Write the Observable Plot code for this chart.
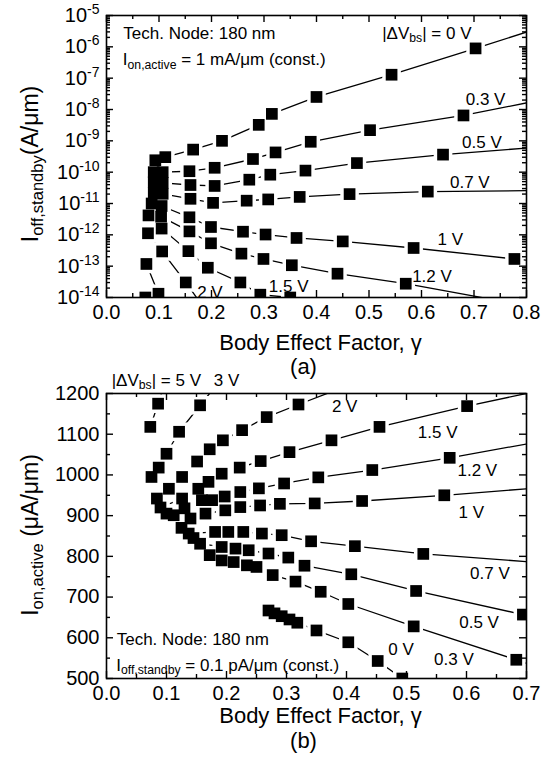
<!DOCTYPE html>
<html>
<head>
<meta charset="utf-8">
<script src="https://cdn.jsdelivr.net/npm/d3@7"></script>
<script src="https://cdn.jsdelivr.net/npm/@observablehq/plot@0.6"></script>
<style>
  html, body { margin: 0; padding: 0; background: #fff; }
  #fig { position: relative; width: 547px; height: 762px; overflow: hidden; }
  #fig svg { position: absolute; left: 0; }
</style>
</head>
<body>
<div id="fig"></div>
<script>
const FONT = '"Liberation Sans", Arial, Helvetica, sans-serif';

// ---------------- Panel (a): I_off,standby vs gamma  [gamma, log10(I A/um)] ----------------
const a0V  = [[0.093,-9.62],[0.112,-9.52],[0.165,-9.28],[0.22,-9.0],[0.29,-8.49],[0.315,-8.14],[0.40,-7.60],[0.543,-6.89],[0.703,-6.05]];
const a03V = [[0.09,-10.0],[0.107,-10.0],[0.158,-9.97],[0.206,-9.86],[0.279,-9.58],[0.322,-9.37],[0.389,-9.03],[0.502,-8.66],[0.68,-8.19]];
const a05V = [[0.09,-10.32],[0.107,-10.34],[0.16,-10.41],[0.206,-10.44],[0.272,-10.24],[0.312,-10.08],[0.379,-9.95],[0.477,-9.71],[0.641,-9.44]];
const a07V = [[0.09,-10.67],[0.107,-10.69],[0.16,-10.85],[0.203,-10.98],[0.267,-10.91],[0.308,-10.87],[0.368,-10.79],[0.463,-10.70],[0.612,-10.62]];
const a1V  = [[0.086,-11.0],[0.105,-11.08],[0.158,-11.44],[0.199,-11.75],[0.26,-11.9],[0.303,-11.99],[0.362,-12.1],[0.45,-12.21],[0.585,-12.42],[0.777,-12.77]];
const a12V = [[0.08,-11.38],[0.104,-11.42],[0.158,-11.89],[0.199,-12.27],[0.257,-12.6],[0.299,-12.77],[0.353,-12.97],[0.44,-13.24],[0.57,-13.56]];
const a15V = [[0.105,-11.8],[0.156,-12.52],[0.193,-13.05],[0.255,-13.52],[0.293,-13.91],[0.35,-14.0]];
const a2V  = [[0.079,-11.95],[0.106,-12.53],[0.151,-13.52]];
const a3V  = [[0.076,-12.93],[0.099,-13.88]];
const a5V  = [[0.074,-14.0]];
const aLineEnds = [["0 V",0.8,-5.53],["0.3 V",0.8,-7.79],["0.5 V",0.8,-9.23],["0.7 V",0.8,-10.59],["1 V",0.8,-12.81],["1.2 V",0.8,-14.26],["2 V",0.18,-14.2],["3 V",0.106,-14.2]];
const aSeries = [["0 V",a0V],["0.3 V",a03V],["0.5 V",a05V],["0.7 V",a07V],["1 V",a1V],["1.2 V",a12V],["1.5 V",a15V],["2 V",a2V],["3 V",a3V],["5 V",a5V]];
const aLabels = [["0.3 V",0.722,-7.68],["0.5 V",0.715,-9.05],["0.7 V",0.692,-10.32],["1 V",0.655,-12.14],["1.2 V",0.62,-13.34],["1.5 V",0.347,-13.64],["2 V",0.197,-13.83]];
const aNoteTech = ["Tech. Node: 180 nm", 0.032, -5.58];
const aNoteIon  = [0.032, -6.42];
const aNoteDV   = [0.526, -5.58];
const xMajorA = [0,0.1,0.2,0.3,0.4,0.5,0.6,0.7,0.8];
const xMinorA = [0.05,0.15,0.25,0.35,0.45,0.55,0.65,0.75];
const yMajorA = [1e-14,1e-13,1e-12,1e-11,1e-10,1e-9,1e-8,1e-7,1e-6,1e-5];
const yMinorA = yMajorA.slice(0,-1).flatMap(p => [2,3,4,5,6,7,8,9].map(k => k*p));

// ---------------- Panel (b): I_on,active vs gamma  [gamma, uA/um] ----------------
const b5V  = [[0.073,1118],[0.086,1175]];
const b3V  = [[0.075,995],[0.087,1018],[0.1,1052],[0.121,1106],[0.156,1171]];
const b2V  = [[0.084,942],[0.104,966],[0.126,995],[0.151,1033],[0.172,1063],[0.194,1085],[0.226,1110],[0.267,1142],[0.32,1173]];
const b15V = [[0.09,920],[0.126,942],[0.153,966],[0.17,983],[0.192,1003],[0.222,1018],[0.257,1034],[0.305,1056],[0.375,1085],[0.455,1118],[0.601,1169]];
const b12V = [[0.1,905],[0.13,918],[0.159,938],[0.176,938],[0.197,947],[0.223,958],[0.254,967],[0.296,979],[0.353,994],[0.443,1012],[0.572,1042]];
const b1V  = [[0.112,901],[0.14,893],[0.165,905],[0.198,913],[0.223,921],[0.256,925],[0.289,929],[0.347,930],[0.426,936],[0.563,950]];
const b07V = [[0.125,870],[0.137,856],[0.181,860],[0.203,860],[0.228,860],[0.259,856],[0.292,852],[0.341,837],[0.414,825],[0.528,806]];
const b05V = [[0.145,845],[0.156,831],[0.192,823],[0.215,819],[0.237,815],[0.27,807],[0.303,797],[0.33,777],[0.408,756],[0.516,715],[0.694,657]];
const b03V = [[0.172,803],[0.192,790],[0.212,786],[0.234,778],[0.25,774],[0.277,754],[0.315,738],[0.357,713],[0.403,683],[0.512,628],[0.683,546]];
const b0V  = [[0.27,667],[0.28,660],[0.292,653],[0.305,645],[0.318,637],[0.35,618],[0.403,589],[0.452,543],[0.493,500]];
const bLineEnds = [["5 V",0.095,1215],["3 V",0.18,1215],["2 V",0.38,1207],["1.5 V",0.7,1200],["1.2 V",0.7,1076],["1 V",0.7,966],["0.7 V",0.7,787],["0.5 V",0.7,655],["0.3 V",0.7,537],["0 V",0.52,470]];
const bSeries = [["5 V",b5V],["3 V",b3V],["2 V",b2V],["1.5 V",b15V],["1.2 V",b12V],["1 V",b1V],["0.7 V",b07V],["0.5 V",b05V],["0.3 V",b03V],["0 V",b0V]];
const bLabels = [["2 V",0.397,1167],["1.5 V",0.552,1105],["1.2 V",0.618,1010],["1 V",0.608,907],["0.7 V",0.639,758],["0.5 V",0.621,637.5],["0.3 V",0.579,546],["0 V",0.491,571]];
const bNoteTech = ["Tech. Node: 180 nm", 0.017, 596];
const bNoteIoff = [0.017, 533];
const bNoteDV   = [0.0095, 1232];
const bNote3V   = ["3 V", 0.2, 1232];
const xMajorB = [0,0.1,0.2,0.3,0.4,0.5,0.6,0.7];
const xMinorB = [0.05,0.15,0.25,0.35,0.45,0.55,0.65];
const yMajorB = [500,600,700,800,900,1000,1100,1200];
const yMinorB = [550,650,750,850,950,1050,1150];

// ---------------- helpers ----------------
const ML = 106, MR = 21, W = 547, FW = W - ML - MR;

function buildPoints(series, yf) {
  return series.flatMap(([s, arr]) => arr.map(([g, v]) => ({s, g, y: yf(v)})));
}
function buildLines(series, ends, yf) {
  return series.flatMap(([s, arr]) => {
    const pts = arr.map(([g, v]) => ({s, g, y: yf(v)}));
    const e = ends.find(d => d[0] === s);
    if (e) pts.push({s, g: e[1], y: yf(e[2])});
    return pts;
  });
}
function frameTicks(xMajor, xMinor, yMajor, yMinor, FH) {
  const st = {stroke: "black", strokeWidth: 1.4};
  const L = 7, l = 4;
  return [
    Plot.tickX(xMajor, {x: d => d, insetTop: FH - L, ...st}),
    Plot.tickX(xMajor, {x: d => d, insetBottom: FH - L, ...st}),
    Plot.tickX(xMinor, {x: d => d, insetTop: FH - l, ...st}),
    Plot.tickX(xMinor, {x: d => d, insetBottom: FH - l, ...st}),
    Plot.tickY(yMajor, {y: d => d, insetRight: FW - L, ...st}),
    Plot.tickY(yMajor, {y: d => d, insetLeft: FW - L, ...st}),
    Plot.tickY(yMinor, {y: d => d, insetRight: FW - l, ...st}),
    Plot.tickY(yMinor, {y: d => d, insetLeft: FW - l, ...st})
  ];
}
function seriesMarks(lines, pts) {
  return [
    Plot.line(lines, {x: "g", y: "y", z: "s", stroke: "black", strokeWidth: 1.3, clip: true}),
    Plot.dot(pts, {x: "g", y: "y", symbol: "square", r: 10.5, fill: "white", stroke: "none", clip: true}),
    Plot.dot(pts, {x: "g", y: "y", symbol: "square", r: 6.6, fill: "black", stroke: "none", clip: true})
  ];
}
// rich text (subscripts) placed through the plot's own scales
function rich(svg, px, py, parts, size, {anchor = "start", rotate = false} = {}) {
  const t = d3.select(svg).append("text")
    .attr("font-family", FONT).attr("font-size", size)
    .attr("text-anchor", anchor).attr("fill", "black")
    .attr("dominant-baseline", "central")
    .style("white-space", "pre");
  if (rotate) t.attr("transform", `translate(${px},${py}) rotate(-90)`);
  else t.attr("x", px).attr("y", py);
  let shifted = 0;
  for (const [txt, kind] of parts) {
    const target = kind === "sub" ? size * 0.3 : 0;
    const ts = t.append("tspan").text(txt).attr("dy", target - shifted);
    shifted = target;
    if (kind === "sub") ts.attr("font-size", size * 0.72);
  }
}

const fig = document.getElementById("fig");

// ---------------- Panel (a) ----------------
const HA = 390, MTA = 15, MBA = 93, FHA = HA - MTA - MBA;
const yfA = e => Math.pow(10, e);
const plotA = Plot.plot({
  width: W, height: HA,
  marginLeft: ML, marginRight: MR, marginTop: MTA, marginBottom: MBA,
  style: {fontFamily: FONT, fontSize: "17px", background: "transparent", color: "black", overflow: "visible"},
  x: {domain: [0, 0.8]},
  y: {type: "log", domain: [1e-14, 1e-5]},
  marks: [
    ...seriesMarks(buildLines(aSeries, aLineEnds, yfA), buildPoints(aSeries, yfA)),
    Plot.frame({stroke: "black", strokeWidth: 1.6}),
    ...frameTicks(xMajorA, xMinorA, yMajorA, yMinorA, FHA),
    Plot.axisX({ticks: xMajorA, tickSize: 0, tickPadding: 7, fontSize: 20, tickFormat: d3.format(".1f"), label: null}),
    Plot.axisY({ticks: yMajorA, tickSize: 0, tickPadding: 7, fontSize: 20, tickFormat: d => String(Math.round(Math.log10(d))), label: null}),
    Plot.text(aLabels, {x: d => d[1], y: d => yfA(d[2]), text: d => d[0], fontSize: 17}),
    Plot.text([aNoteTech], {x: d => d[1], y: d => yfA(d[2]), text: d => d[0], fontSize: 17, textAnchor: "start"}),
    Plot.text(["Body Effect Factor, γ"], {text: d => d, frameAnchor: "bottom", dy: 52, dx: 4, fontSize: 22}),
    Plot.text(["(a)"], {text: d => d, frameAnchor: "bottom", dy: 76, dx: -13, fontSize: 22})
  ]
});
plotA.style.top = "0px";
fig.appendChild(plotA);
// superscript exponents for log tick labels
d3.select(plotA).selectAll('g[aria-label="y-axis tick label"] text').each(function () {
  const el = d3.select(this); const exp = el.text(); el.text(null);
  el.append("tspan").text("10");
  el.append("tspan").attr("dy", -8).attr("font-size", 14).text(exp);
});
{
  const sx = plotA.scale("x"), sy = plotA.scale("y");
  rich(plotA, sx.apply(aNoteIon[0]), sy.apply(yfA(aNoteIon[1])), [["I"], ["on,active", "sub"], [" = 1 mA/μm (const.)"]], 17);
  rich(plotA, sx.apply(aNoteDV[0]), sy.apply(yfA(aNoteDV[1])), [["|ΔV"], ["bs", "sub"], ["| = 0 V"]], 17);
  rich(plotA, 30, (MTA + HA - MBA) / 2 + 8, [["I"], ["off,standby", "sub"], ["(A/μm)"]], 23, {anchor: "middle", rotate: true});
}

// ---------------- Panel (b) ----------------
const TOPB = 360, HB = 402, MTB = 33, MBB = 84, FHB = HB - MTB - MBB;
const yfB = v => v;
const plotB = Plot.plot({
  width: W, height: HB,
  marginLeft: ML, marginRight: MR, marginTop: MTB, marginBottom: MBB,
  style: {fontFamily: FONT, fontSize: "17px", background: "transparent", color: "black", overflow: "visible"},
  x: {domain: [0, 0.7]},
  y: {domain: [500, 1200]},
  marks: [
    ...seriesMarks(buildLines(bSeries, bLineEnds, yfB), buildPoints(bSeries, yfB)),
    Plot.frame({stroke: "black", strokeWidth: 1.6}),
    ...frameTicks(xMajorB, xMinorB, yMajorB, yMinorB, FHB),
    Plot.axisX({ticks: xMajorB, tickSize: 0, tickPadding: 7, fontSize: 20, tickFormat: d3.format(".1f"), label: null}),
    Plot.axisY({ticks: yMajorB, tickSize: 0, tickPadding: 7, fontSize: 20, tickFormat: d3.format("d"), label: null}),
    Plot.text(bLabels, {x: d => d[1], y: d => d[2], text: d => d[0], fontSize: 17}),
    Plot.text([bNoteTech], {x: d => d[1], y: d => d[2], text: d => d[0], fontSize: 17, textAnchor: "start"}),
    Plot.text([bNote3V], {x: d => d[1], y: d => d[2], text: d => d[0], fontSize: 17}),
    Plot.text(["Body Effect Factor, γ"], {text: d => d, frameAnchor: "bottom", dy: 44, dx: 4, fontSize: 22}),
    Plot.text(["(b)"], {text: d => d, frameAnchor: "bottom", dy: 69, dx: -13, fontSize: 22})
  ]
});
plotB.style.top = TOPB + "px";
fig.appendChild(plotB);
{
  const sx = plotB.scale("x"), sy = plotB.scale("y");
  rich(plotB, sx.apply(bNoteIoff[0]), sy.apply(bNoteIoff[1]), [["I"], ["off,standby", "sub"], [" = 0.1 pA/μm (const.)"]], 17);
  rich(plotB, sx.apply(bNoteDV[0]), sy.apply(bNoteDV[1]), [["|ΔV"], ["bs", "sub"], ["| = 5 V"]], 17);
  rich(plotB, 30, 175, [["I"], ["on,active", "sub"], [" (μA/μm)"]], 23, {anchor: "middle", rotate: true});
}
</script>
</body>
</html>
